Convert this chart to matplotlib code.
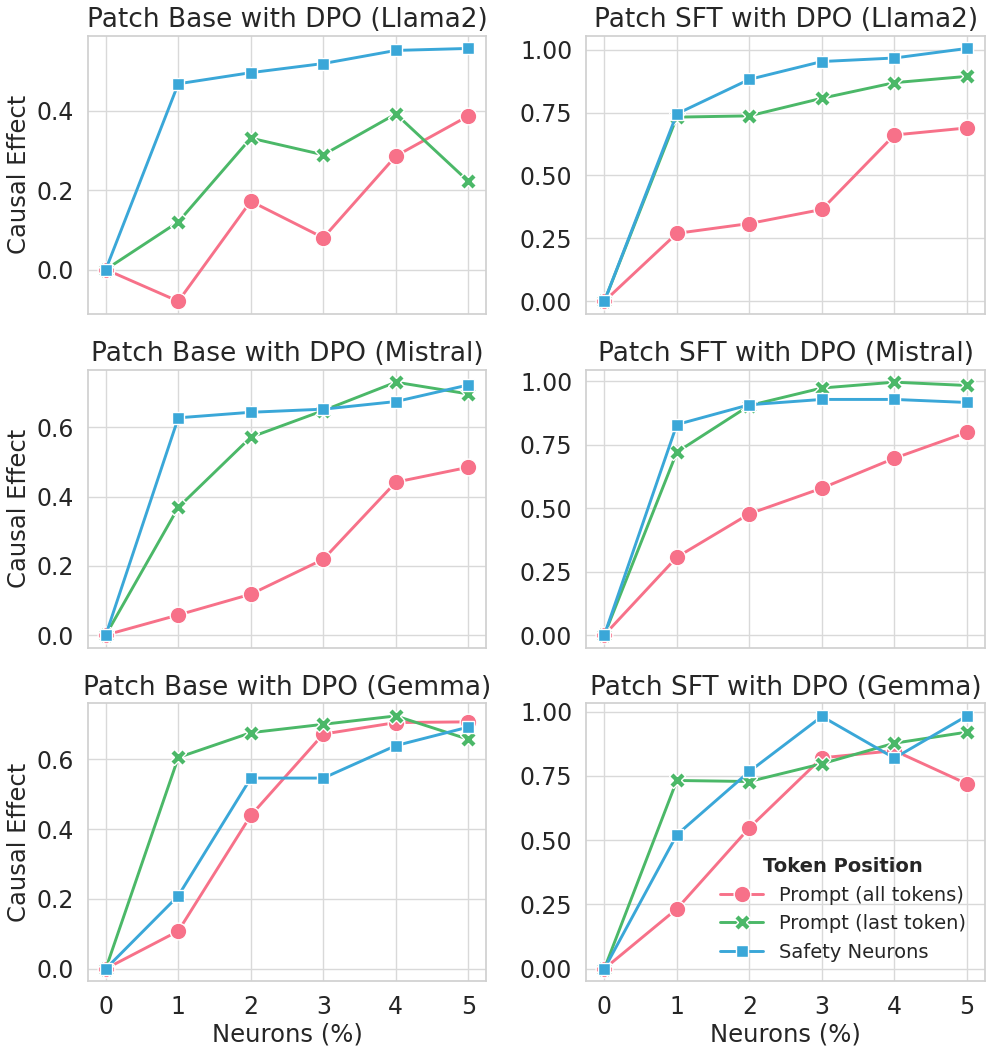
import matplotlib
matplotlib.use("Agg")
import matplotlib.pyplot as plt
from matplotlib.ticker import MultipleLocator
import seaborn as sns

neurons = [0, 1, 2, 3, 4, 5]
series_names = ["Prompt (all tokens)", "Prompt (last token)", "Safety Neurons"]
titles = [
    "Patch Base with DPO (Llama2)", "Patch SFT with DPO (Llama2)",
    "Patch Base with DPO (Mistral)", "Patch SFT with DPO (Mistral)",
    "Patch Base with DPO (Gemma)", "Patch SFT with DPO (Gemma)",
]

# values, one list per series per panel
base_llama_all = [0.0, -0.080, 0.172, 0.080, 0.286, 0.387]
base_llama_last = [0.0, 0.120, 0.331, 0.289, 0.392, 0.222]
base_llama_neur = [0.0, 0.468, 0.496, 0.519, 0.552, 0.557]

sft_llama_all = [0.0, 0.270, 0.309, 0.365, 0.661, 0.689]
sft_llama_last = [0.0, 0.732, 0.737, 0.807, 0.869, 0.894]
sft_llama_neur = [0.0, 0.745, 0.882, 0.953, 0.967, 1.005]

base_mistral_all = [0.0, 0.058, 0.118, 0.219, 0.442, 0.485]
base_mistral_last = [0.0, 0.369, 0.572, 0.649, 0.731, 0.697]
base_mistral_neur = [0.0, 0.628, 0.644, 0.653, 0.675, 0.723]

sft_mistral_all = [0.0, 0.307, 0.478, 0.579, 0.697, 0.799]
sft_mistral_last = [0.0, 0.721, 0.905, 0.974, 0.997, 0.984]
sft_mistral_neur = [0.0, 0.830, 0.908, 0.929, 0.929, 0.917]

base_gemma_all = [0.0, 0.108, 0.439, 0.672, 0.705, 0.707]
base_gemma_last = [0.0, 0.605, 0.676, 0.700, 0.724, 0.657]
base_gemma_neur = [0.0, 0.209, 0.546, 0.546, 0.639, 0.692]

sft_gemma_all = [0.0, 0.233, 0.548, 0.820, 0.848, 0.719]
sft_gemma_last = [0.0, 0.732, 0.728, 0.797, 0.877, 0.920]
sft_gemma_neur = [0.0, 0.521, 0.767, 0.981, 0.819, 0.983]

panels = [
    (base_llama_all, base_llama_last, base_llama_neur),
    (sft_llama_all, sft_llama_last, sft_llama_neur),
    (base_mistral_all, base_mistral_last, base_mistral_neur),
    (sft_mistral_all, sft_mistral_last, sft_mistral_neur),
    (base_gemma_all, base_gemma_last, base_gemma_neur),
    (sft_gemma_all, sft_gemma_last, sft_gemma_neur),
]

sns.set_theme(style="whitegrid")
plt.rcParams['font.family'] = ['DejaVu Sans']

colors = ["#f77189", "#4bb868", "#3aa7d8"]
markers = ["o", "X", "s"]
msizes = [12, 11, 9]

fig, axes = plt.subplots(3, 2, figsize=(9.96, 10.53), dpi=100, sharex=True)
fig.subplots_adjust(left=0.088, right=0.989, top=0.966, bottom=0.068,
                    wspace=0.25, hspace=0.20)

for i, ax in enumerate(axes.flat):
    for vals, name, c, m, ms in zip(panels[i], series_names, colors, markers, msizes):
        ax.plot(neurons, vals, color=c, marker=m, markersize=ms, lw=2.1,
                markeredgecolor="white", markeredgewidth=1, label=name)
    ax.set_title(titles[i], fontsize=19, color="#262626", pad=6)
    ax.tick_params(labelsize=17, colors="#262626", pad=4)
    ax.set_xticks(neurons)
    ax.grid(color="#d9d9d9")
    if i % 2 == 0:
        ax.yaxis.set_major_locator(MultipleLocator(0.2))
        ax.set_ylabel("Causal Effect", fontsize=17.5, color="#262626")
    else:
        ax.yaxis.set_major_locator(MultipleLocator(0.25))
    if i >= 4:
        ax.set_xlabel("Neurons (%)", fontsize=17.5, color="#262626", labelpad=2)
    for s in ax.spines.values():
        s.set_color("#d0d0d0")

leg = axes[2, 1].legend(title="Token Position", frameon=False, fontsize=14,
                        loc="lower right", bbox_to_anchor=(1.0, 0.0),
                        title_fontproperties={"weight": "bold", "size": 14},
                        handlelength=2.2, borderaxespad=0.6)

plt.savefig("out.png", dpi=100)
